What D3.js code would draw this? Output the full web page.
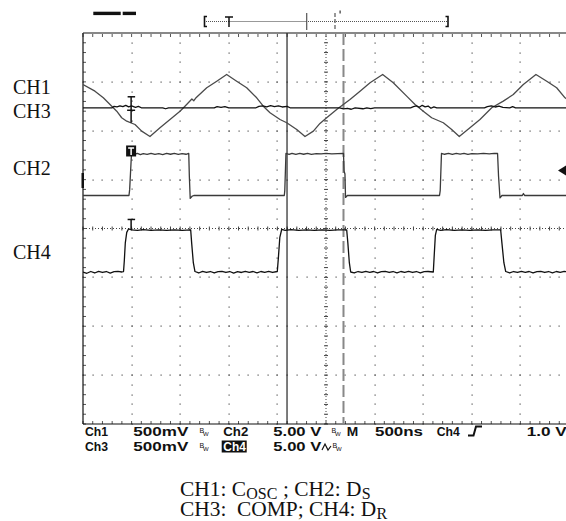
<!DOCTYPE html>
<html>
<head>
<meta charset="utf-8">
<script src="https://cdn.jsdelivr.net/npm/d3@7"></script>
<style>
  body { margin: 0; background: #fff; }
  svg { display: block; }
  text { white-space: pre; }
</style>
</head>
<body>
<svg id="scope" width="566" height="521"></svg>
<script>
// ---- acquisition data: [time ns, volts] ----
// CH1: oscillator capacitor ramp (500 mV/div)
const ch1Trace = [
  [0,0.238],[123,0.170],[209,0.102],[278,0.034],[347,-0.035],[398,-0.102],[450,-0.137],
  [535,-0.171],[604,-0.239],[689,-0.294],[792,-0.205],[895,-0.120],[998,-0.035],[1049,0.016],
  [1120,0.090],[1140,0.072],[1160,0.100],[1273,0.205],[1376,0.272],[1478,0.341],[1581,0.272],
  [1684,0.205],[1787,0.102],[1855,0.016],[1924,-0.051],[2027,-0.120],[2096,-0.153],[2199,-0.222],
  [2284,-0.294],[2370,-0.239],[2438,-0.160],[2507,-0.102],[2610,-0.017],[2678,0.034],[2747,0.085],
  [2850,0.170],[2953,0.256],[3083,0.341],[3192,0.256],[3330,0.119],[3416,0.034],[3501,-0.035],
  [3587,-0.102],[3707,-0.153],[3793,-0.222],[3871,-0.294],[3981,-0.205],[4084,-0.120],[4205,0.000],
  [4324,0.068],[4427,0.136],[4530,0.238],[4660,0.341],[4771,0.272],[4873,0.205],[4959,0.102],
  [5000,0.075]
];
// CH2: D_S gate drive (5 V/div)
const ch2Trace = [
  [0,0],[473,0],[480,0.6],[499,4.3],[530,4.2],[560,4.3],[590,4.18],[620,4.28],[660,4.2],
  [700,4.3],[740,4.2],[780,4.28],[820,4.18],[860,4.3],[900,4.22],[940,4.3],[980,4.2],
  [1020,4.28],[1060,4.22],[1088,4.3],[1094,2.0],[1103,-0.3],[1125,-0.05],[1140,0],
  [2071,0],[2076,0.5],[2088,4.3],[2120,4.2],[2150,4.32],[2190,4.2],[2230,4.3],[2270,4.22],
  [2310,4.3],[2350,4.2],[2400,4.28],[2450,4.25],[2500,4.3],[2560,4.25],[2620,4.28],[2680,4.3],
  [2686,2.5],[2695,2.2],[2701,-0.2],[2720,0],
  [3668,0],[3675,0.5],[3688,4.3],[3720,4.22],[3760,4.3],[3800,4.2],[3840,4.3],[3880,4.24],
  [3920,4.3],[3960,4.2],[4000,4.28],[4060,4.25],[4120,4.3],[4180,4.25],[4230,4.3],[4265,4.3],
  [4275,2.0],[4290,-0.25],[4310,0],[4520,0],[4531,0.2],[4545,0],[5000,0]
];
// CH3: COMP level (500 mV/div)
const ch3Trace = [
  [0,0],[300,0],[320,0.015],[350,0.01],[380,0.02],[410,0.012],[440,0.025],[470,0.01],
  [500,0.02],[540,0.005],[570,0.015],[600,0],[820,0],[850,-0.01],[880,0],
  [1350,0],[1380,0.012],[1420,0.005],[1460,0.012],[1500,0],
  [1780,0],[1810,0.015],[1850,0.02],[1890,0.01],[1930,0.022],[1970,0.012],[2010,0.02],
  [2050,0.008],[2100,0.015],[2130,0],
  [2640,0],[2680,-0.012],[2720,-0.005],[2760,-0.015],[2800,0],[2880,-0.01],[2920,0],
  [2960,-0.008],[3000,0],
  [3370,0],[3400,0.012],[3430,0.02],[3460,0.005],[3490,0.025],[3520,0.01],[3550,0.018],
  [3580,-0.005],[3610,0.01],[3640,0],
  [4130,0],[4160,0.012],[4200,0.02],[4240,0.008],[4280,0.018],[4320,0.005],[4390,0],
  [4420,0.012],[4450,0],[5000,0]
];
// CH4: D_R gate drive (5 V/div)
const ch4Trace = [
  [0,0.05],[40,-0.08],[80,0.1],[120,-0.05],[160,0.12],[200,0],[240,0.1],[280,-0.06],
  [320,0.08],[360,0.12],[400,0.05],[417,0.1],[425,1.2],[435,3.0],[450,4.1],[468,4.45],
  [500,4.35],[560,4.3],[620,4.38],[700,4.3],[780,4.35],[860,4.3],[940,4.36],[1020,4.3],
  [1108,4.35],[1118,3.0],[1135,1.0],[1152,0.1],[1190,-0.05],[1230,0.12],[1270,0],[1310,0.1],
  [1350,-0.05],[1390,0.08],[1430,0.12],[1470,0],[1510,0.1],[1550,-0.06],[1590,0.08],
  [1630,0],[1670,0.12],[1710,0.02],[1750,0.1],[1790,-0.04],[1830,0.1],[1870,0.02],
  [1910,0.12],[1950,0],[1999,0.1],[2010,1.5],[2025,3.6],[2044,4.4],[2080,4.3],[2140,4.38],
  [2220,4.3],[2300,4.35],[2380,4.3],[2460,4.36],[2540,4.3],[2620,4.35],[2713,4.35],
  [2725,3.0],[2740,1.0],[2754,0.05],[2790,-0.05],[2830,0.1],[2870,0],[2910,0.12],[2950,0.02],
  [2990,0.1],[3030,-0.05],[3070,0.08],[3110,0.12],[3150,0],[3190,0.1],[3230,-0.04],
  [3270,0.1],[3310,0.02],[3350,0.12],[3390,0],[3430,0.1],[3470,-0.05],[3510,0.08],
  [3550,0.1],[3604,0.05],[3612,1.5],[3625,3.8],[3639,4.4],[3680,4.3],[3740,4.38],[3820,4.3],
  [3900,4.35],[3980,4.3],[4060,4.36],[4140,4.3],[4220,4.35],[4297,4.35],[4310,3.0],
  [4330,1.0],[4349,0.1],[4390,-0.05],[4430,0.1],[4470,0],[4510,0.12],[4550,0.02],[4590,0.1],
  [4630,-0.05],[4670,0.08],[4710,0.12],[4750,0],[4790,0.1],[4830,-0.04],[4870,0.1],
  [4910,0.02],[4950,0.12],[5000,0.05]
];

// trigger point and the two time cursors (ns)
const triggerTime = 495;
const cursorTimes = [2099, 2680];

// readout labels
const readoutRow1 = ["Ch1", "500mV", "Ch2", "5.00 V", "M", "500ns", "Ch4", "1.0 V"];
const readoutRow2 = ["Ch3", "500mV", "Ch4", "5.00 V"];
const sideLabels = ["CH1", "CH3", "CH2", "CH4"];
// caption pieces: [text, subscript?]
const captionLine1 = [["CH1: C", false], ["OSC", true], [" ; CH2: D", false], ["S", true]];
const captionLine2 = [["CH3:  COMP; CH4: D", false], ["R", true]];

// ---- layout ----
const svg = d3.select("#scope");
const X0 = 83, X1 = 569, Y0 = 33, Y1 = 424;
const x = d3.scaleLinear().domain([0, 5000]).range([X0, X1]);
const xDiv = d3.scaleLinear().domain([0, 10]).range([X0, X1]);
const yDiv = d3.scaleLinear().domain([-4, 4]).range([Y1, Y0]);

// channel scale (V/div) and vertical position (div)
const channels = [
  { data: ch1Trace, vdiv: 0.5, pos: 2.47,  color: "#4a4a4a" },
  { data: ch3Trace, vdiv: 0.5, pos: 2.47,  color: "#111" },
  { data: ch2Trace, vdiv: 5,   pos: 0.675, color: "#3a3a3a" },
  { data: ch4Trace, vdiv: 5,   pos: -0.9,  color: "#111" }
];

// ---- graticule ----
const grid = svg.append("g");
const minorX = d3.range(0, 10.001, 0.2);
const minorY = d3.range(-4, 4.001, 0.2);
const dot = (px, py) => grid.append("rect")
  .attr("x", Math.round(px) - 0.5).attr("y", Math.round(py) - 0.5)
  .attr("width", 1.2).attr("height", 1.2).attr("fill", "#555");

// dotted major verticals
for (let i = 1; i <= 9; i++) {
  if (i === 5) continue;
  minorY.forEach(v => dot(xDiv(i), yDiv(v)));
}
// dotted major horizontals
for (let j = -3; j <= 3; j++) {
  if (j === 0) continue;
  minorX.forEach(u => dot(xDiv(u), yDiv(j)));
}
// centre cross with minor ticks
grid.append("line").attr("x1", X0).attr("x2", X1).attr("y1", yDiv(0)).attr("y2", yDiv(0))
  .attr("stroke", "#444").attr("stroke-dasharray", "1,2");
grid.append("line").attr("x1", xDiv(5)).attr("x2", xDiv(5)).attr("y1", Y0).attr("y2", Y1)
  .attr("stroke", "#444").attr("stroke-dasharray", "1,2");
minorX.forEach(u => grid.append("line")
  .attr("x1", xDiv(u)).attr("x2", xDiv(u)).attr("y1", yDiv(0) - 2).attr("y2", yDiv(0) + 2)
  .attr("stroke", "#444"));
minorY.forEach(v => grid.append("line")
  .attr("x1", xDiv(5) - 2).attr("x2", xDiv(5) + 2).attr("y1", yDiv(v)).attr("y2", yDiv(v))
  .attr("stroke", "#444"));
// border ticks
minorX.forEach(u => {
  grid.append("line").attr("x1", xDiv(u)).attr("x2", xDiv(u)).attr("y1", Y0).attr("y2", Y0 + 4)
    .attr("stroke", "#555");
  grid.append("line").attr("x1", xDiv(u)).attr("x2", xDiv(u)).attr("y1", Y1 - 3).attr("y2", Y1)
    .attr("stroke", "#555");
});
minorY.forEach(v => grid.append("line")
  .attr("x1", X0).attr("x2", X0 + 3).attr("y1", yDiv(v)).attr("y2", yDiv(v))
  .attr("stroke", "#555"));
// frame
grid.append("line").attr("x1", X0).attr("x2", X1).attr("y1", Y0).attr("y2", Y0)
  .attr("stroke", "#888").attr("stroke-width", 2);
grid.append("line").attr("x1", X0).attr("x2", X1).attr("y1", Y1).attr("y2", Y1)
  .attr("stroke", "#111").attr("stroke-width", 1.2);
grid.append("line").attr("x1", X0).attr("x2", X0).attr("y1", Y0).attr("y2", Y1)
  .attr("stroke", "#111").attr("stroke-width", 1.2);

// ---- cursors ----
svg.append("line").attr("x1", x(cursorTimes[0])).attr("x2", x(cursorTimes[0]))
  .attr("y1", Y0).attr("y2", Y1).attr("stroke", "#111").attr("stroke-width", 1.1);
svg.append("line").attr("x1", x(cursorTimes[1])).attr("x2", x(cursorTimes[1]))
  .attr("y1", Y0).attr("y2", Y1).attr("stroke", "#888").attr("stroke-width", 2)
  .attr("stroke-dasharray", "12,4");

// ---- traces ----
svg.append("clipPath").attr("id", "plot").append("rect")
  .attr("x", X0).attr("y", Y0).attr("width", X1 - X0).attr("height", Y1 - Y0);
const traces = svg.append("g").attr("clip-path", "url(#plot)");
channels.forEach(ch => {
  const line = d3.line()
    .x(d => x(d[0]))
    .y(d => yDiv(ch.pos + d[1] / ch.vdiv));
  traces.append("path").attr("d", line(ch.data))
    .attr("fill", "none").attr("stroke", ch.color).attr("stroke-width", 1.3)
    .attr("stroke-linejoin", "round");
});

// ---- trigger markers ----
const tx = x(triggerTime);
const mk = svg.append("g").attr("stroke", "#111").attr("stroke-width", 1.5);
const y13 = yDiv(channels[0].pos);
mk.append("line").attr("x1", tx).attr("x2", tx).attr("y1", y13 - 11).attr("y2", y13 + 15);
mk.append("line").attr("x1", tx - 3.5).attr("x2", tx + 4).attr("y1", y13 - 11).attr("y2", y13 - 11);
mk.append("line").attr("x1", tx - 4).attr("x2", tx + 4).attr("y1", y13 + 2.5).attr("y2", y13 + 2.5);
const y2hi = yDiv(channels[2].pos + 4.3 / 5);
svg.append("rect").attr("x", tx - 5).attr("y", y2hi - 8).attr("width", 10).attr("height", 11)
  .attr("fill", "#111");
svg.append("path").attr("d", `M${tx - 3},${y2hi - 5.5}H${tx + 3}M${tx},${y2hi - 5.5}V${y2hi + 1.5}`)
  .attr("stroke", "#fff").attr("stroke-width", 1.5);
const y4hi = yDiv(channels[3].pos + 4.35 / 5);
mk.append("line").attr("x1", tx).attr("x2", tx).attr("y1", y4hi - 10.5).attr("y2", y4hi);
mk.append("line").attr("x1", tx - 3.5).attr("x2", tx + 4).attr("y1", y4hi - 10.5).attr("y2", y4hi - 10.5);

// ground marker on the left edge, trigger arrow on the right edge
svg.append("rect").attr("x", X0 - 1.5).attr("y", 173).attr("width", 2.5).attr("height", 15)
  .attr("fill", "#111");
svg.append("path").attr("d", "M558,170.5L566,165.5V175.5Z").attr("fill", "#111");

// ---- record window bar ----
const hb = svg.append("g");
hb.append("rect").attr("x", 93.3).attr("y", 11.7).attr("width", 27.4).attr("height", 3.4).attr("fill", "#111");
hb.append("rect").attr("x", 122.7).attr("y", 11.7).attr("width", 13.3).attr("height", 3.4).attr("fill", "#111");
hb.append("line").attr("x1", 206).attr("x2", 447).attr("y1", 21.5).attr("y2", 21.5)
  .attr("stroke", "#555").attr("stroke-dasharray", "1,1");
hb.append("line").attr("x1", 229).attr("x2", 306).attr("y1", 21.5).attr("y2", 21.5)
  .attr("stroke", "#999");
hb.append("path").attr("d", "M207,16.5H204.5V26.5H207").attr("fill", "none")
  .attr("stroke", "#111").attr("stroke-width", 1.6);
hb.append("path").attr("d", "M445.5,16.5H448V26.5H445.5").attr("fill", "none")
  .attr("stroke", "#111").attr("stroke-width", 1.6);
hb.append("path").attr("d", "M225,17H233M229,17V27").attr("stroke", "#111").attr("stroke-width", 1.5);
hb.append("line").attr("x1", 306.7).attr("x2", 306.7).attr("y1", 13).attr("y2", 30)
  .attr("stroke", "#555").attr("stroke-width", 1.2);
hb.append("line").attr("x1", 335).attr("x2", 335).attr("y1", 13).attr("y2", 30)
  .attr("stroke", "#555").attr("stroke-width", 1.2).attr("stroke-dasharray", "4,2");
hb.append("rect").attr("x", 339.5).attr("y", 10.5).attr("width", 1.2).attr("height", 3).attr("fill", "#333");

// ---- readout ----
const ro = svg.append("g").attr("font-family", "Liberation Sans, Arial, sans-serif")
  .attr("font-weight", "bold").attr("font-size", 13).attr("fill", "#111");
const put = (s, px, py, len, fill) => ro.append("text").attr("x", px).attr("y", py)
  .attr("textLength", len).attr("lengthAdjust", "spacingAndGlyphs")
  .attr("fill", fill || "#111").text(s);
const r1 = 435.5, r2 = 451;
const r1x = [[85, 23], [133.3, 55], [223.3, 25], [273.3, 48], [346.7, 11.5], [375, 48], [436.7, 23], [526.7, 40]];
readoutRow1.forEach((s, i) => put(s, r1x[i][0], r1, r1x[i][1]));
ro.append("rect").attr("x", 221.7).attr("y", 440.5).attr("width", 25).attr("height", 12).attr("fill", "#111");
const r2x = [[85, 23], [133.3, 55], [223.3, 22.5], [273.3, 48]];
readoutRow2.forEach((s, i) => put(s, r2x[i][0], r2, r2x[i][1], i === 2 ? "#fff" : "#111"));
// bandwidth-limit marks
const bw = (px, py) => {
  ro.append("text").attr("x", px).attr("y", py - 3).attr("font-size", 7).attr("font-weight", "normal").text("B");
  ro.append("text").attr("x", px + 3.5).attr("y", py).attr("font-size", 6).attr("font-weight", "normal").text("W");
};
bw(199.5, r1); bw(331.5, r1); bw(199.5, r2); bw(332.5, r2);
// AC coupling glyph and rising-edge trigger glyph
ro.append("path").attr("d", `M322,${r2 - 1}L325,${r2 - 7}L328,${r2 - 1}L331,${r2 - 5}`)
  .attr("fill", "none").attr("stroke", "#111").attr("stroke-width", 1.2);
ro.append("path").attr("d", `M468,${r1}H473.5L476,${r1 - 9}H482`)
  .attr("fill", "none").attr("stroke", "#111").attr("stroke-width", 2);

// ---- channel labels ----
const lab = svg.append("g").attr("font-family", "Liberation Serif, Times New Roman, serif")
  .attr("fill", "#111");
const sideY = [93.5, 118, 175, 259];
sideLabels.forEach((s, i) => lab.append("text").attr("x", 13).attr("y", sideY[i])
  .attr("font-size", 20).text(s));

// caption: pieces laid out one after another, subscripts smaller and lowered
function captionLine(parts, px, py) {
  let cx = px;
  parts.forEach(([s, sub]) => {
    const t = lab.append("text").attr("x", cx).attr("y", sub ? py + 3 : py)
      .attr("font-size", sub ? 16 : 21.4).text(s);
    cx += t.node().getComputedTextLength() + 0.3;
  });
}
captionLine(captionLine1, 180, 496);
captionLine(captionLine2, 180, 515.5);
</script>
</body>
</html>
